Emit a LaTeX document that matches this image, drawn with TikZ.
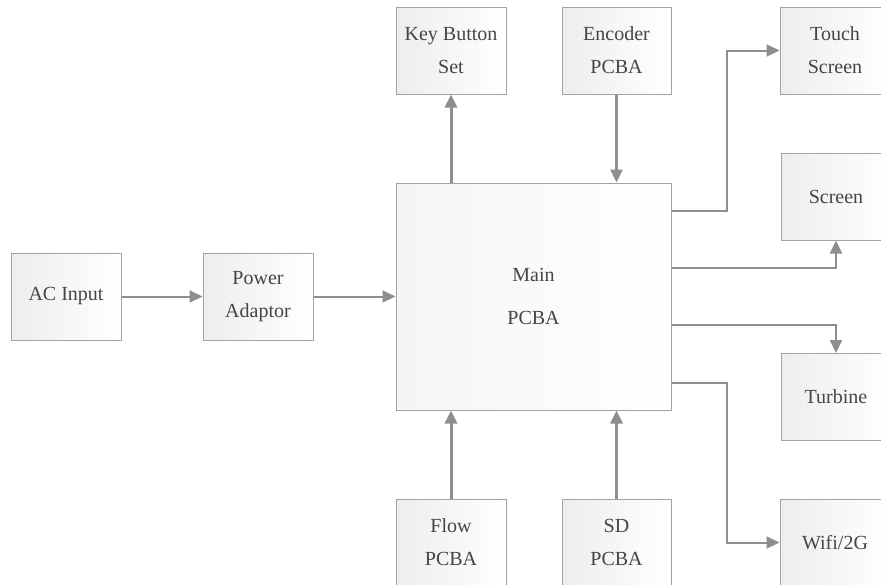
\documentclass[tikz,border=0pt]{standalone}
\usepackage{fontspec}
\setmainfont{Liberation Serif}
\usetikzlibrary{arrows.meta}
\definecolor{boxline}{HTML}{A2A2A2}
\definecolor{wire}{HTML}{8E8E8E}
\definecolor{label}{HTML}{454545}

\begin{document}
\begin{tikzpicture}[x=1pt, y=-1pt,
    block/.style={draw=boxline, line width=1pt, left color=black!7, right color=white,
        minimum width=110pt, minimum height=87pt, align=center, text=label,
        font=\fontsize{20}{33}\selectfont},
    arr/.style={draw=wire, line width=2pt, -{Triangle[length=13pt, width=12pt]}},
    varr/.style={arr, line width=3pt}]
    \useasboundingbox (0,0) rectangle (881,584);
    \node[block] (ac) at (66,296.5) {AC Input};
    \node[block] (power) at (258,296.5) {Power\\Adaptor};
    \node[block, minimum width=275pt, minimum height=227pt, left color=black!4,
        font=\fontsize{20}{43}\selectfont] (main) at (533.5,296.5) {Main\\PCBA};
    \node[block] (key) at (451,50.5) {Key Button\\Set};
    \node[block, minimum width=109pt] (enc) at (616.5,50.5) {Encoder\\PCBA};
    \node[block] (touch) at (835,50.5) {Touch\\Screen};
    \node[block] (screen) at (836,196.5) {Screen};
    \node[block] (turbine) at (836,397) {Turbine};
    \node[block] (wifi) at (835,542.5) {Wifi/2G};
    \node[block] (flow) at (451,542.5) {Flow\\PCBA};
    \node[block, minimum width=109pt] (sd) at (616.5,542.5) {SD\\PCBA};
    % power path
    \draw[arr] (ac) -- (power);
    \draw[arr] (power) -- (main);
    % top and bottom
    \draw[varr] (key.south |- main.north) -- (key.south);
    \draw[varr] (enc.south) -- (enc.south |- main.north);
    \draw[varr] (flow.north) -- (flow.north |- main.south);
    \draw[varr] (sd.north) -- (sd.north |- main.south);
    % outputs on the right
    \draw[arr] ([yshift=85.5pt]main.east) -- ++(55,0) |- (touch.west);
    \draw[arr] ([yshift=28.5pt]main.east) -| (screen.south);
    \draw[arr] ([yshift=-28.5pt]main.east) -| (turbine.north);
    \draw[arr] ([yshift=-86.5pt]main.east) -- ++(55,0) |- (wifi.west);
\end{tikzpicture}
\end{document}
